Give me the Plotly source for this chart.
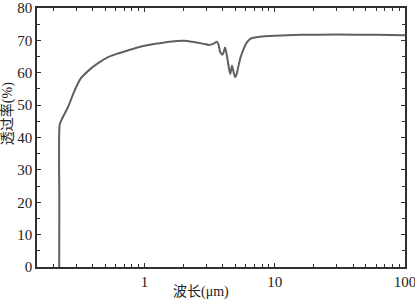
import plotly.graph_objects as go

wavelength = [0.222, 0.2225, 0.224, 0.234, 0.26, 0.288, 0.323, 0.386, 0.45, 0.518, 0.62, 0.737, 0.9, 1.05, 1.25, 1.5, 1.78, 2.0, 2.39, 2.8, 3.11, 3.4, 3.6, 3.72, 3.82, 3.98, 4.1, 4.17, 4.3, 4.45, 4.56, 4.7, 4.85, 4.98, 5.1, 5.28, 5.5, 5.77, 6.1, 6.5, 7.7, 10.0, 15.7, 30.0, 60.0, 100.0]
transmittance = [0.0, 20.0, 44.0, 45.9, 49.5, 54.0, 58.1, 61.2, 63.2, 64.7, 65.9, 66.8, 67.9, 68.5, 69.0, 69.5, 69.8, 69.9, 69.5, 69.0, 68.6, 69.0, 69.6, 68.5, 66.3, 65.6, 67.0, 67.8, 65.2, 61.5, 59.6, 62.2, 60.0, 58.6, 59.5, 62.2, 65.0, 67.3, 69.3, 70.5, 71.1, 71.4, 71.7, 71.8, 71.7, 71.6]

x_major = [1, 10, 100]
x_minor = [0.2, 0.3, 0.4, 0.5, 0.6, 0.7, 0.8, 0.9, 2, 3, 4, 5, 6, 7, 8, 9, 20, 30, 40, 50, 60, 70, 80, 90]
y_major = [0, 10, 20, 30, 40, 50, 60, 70, 80]
y_minor = [5, 15, 25, 35, 45, 55, 65, 75]

x_title = "波长(μm)"
y_title = "透过率(%)"

serif = "'Liberation Serif', 'Times New Roman', serif"
title_font = "'Liberation Serif', 'Noto Sans CJK SC', serif"

fig = go.Figure()
fig.add_trace(go.Scatter(x=wavelength, y=transmittance, mode="lines",
                         line=dict(color="#606060", width=2, shape="spline", smoothing=0.6)))

axis_common = dict(showline=True, linecolor="#303030", linewidth=1.5, mirror="ticks",
                   ticks="inside", ticklen=4, tickcolor="#303030", showgrid=False, zeroline=False,
                   ticklabeloverflow="allow", automargin=False,
                   tickfont=dict(family=serif, size=15, color="#222"))

fig.update_xaxes(type="log", range=[-0.824, 2.0], tickvals=x_major, ticktext=[str(v) for v in x_major],
                 minor=dict(ticks="inside", ticklen=3, tickvals=x_minor, tickcolor="#303030", showgrid=False),
                 **axis_common)
fig.update_yaxes(range=[0, 80], tickvals=y_major,
                 minor=dict(ticks="inside", ticklen=3, tickvals=y_minor, tickcolor="#303030", showgrid=False),
                 **axis_common)

fig.add_annotation(text=x_title, xref="paper", yref="paper", x=0.446, y=-0.095,
                   xanchor="center", yanchor="middle", showarrow=False,
                   font=dict(family=title_font, size=14, color="#222"))
fig.add_annotation(text=y_title, xref="paper", yref="paper", x=-0.0815, y=0.59,
                   xanchor="center", yanchor="middle", textangle=-90, showarrow=False,
                   font=dict(family=title_font, size=14, color="#222"))

fig.update_layout(width=415, height=299, margin=dict(l=37, r=10, t=8, b=32),
                  plot_bgcolor="white", paper_bgcolor="white", showlegend=False)

fig.write_html("out.html")
